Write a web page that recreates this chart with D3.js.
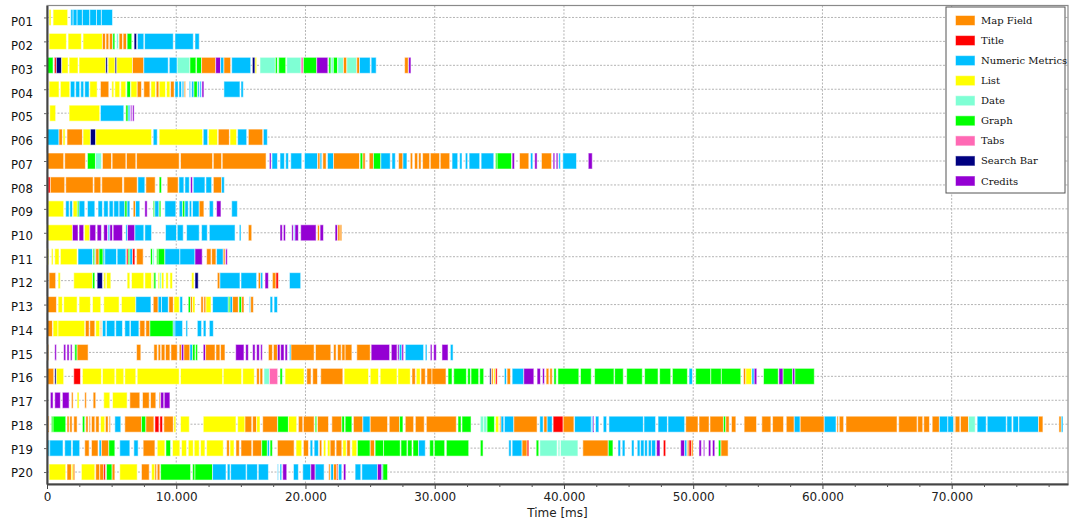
<!DOCTYPE html>
<html><head><meta charset="utf-8">
<script src="https://cdn.jsdelivr.net/npm/d3@7"></script>
<style>body{margin:0;background:#fff} svg{display:block}</style>
</head><body><svg id="c" width="1070" height="524"></svg>
<script>
const participants = ["P01","P02","P03","P04","P05","P06","P07","P08","P09","P10","P11","P12","P13","P14","P15","P16","P17","P18","P19","P20"];
const categoryCodes = ["M","T","N","L","D","G","B","S","C"];
const categoryNames = ["Map Field","Title","Numeric Metrics","List","Date","Graph","Tabs","Search Bar","Credits"];
const categoryColors = ["#FF8C00","#FF0000","#00BFFF","#FFFF00","#7FFFD4","#00FF00","#FF69B4","#000080","#9400D3"];
const xMajorTicks = [0,10000,20000,30000,40000,50000,60000,70000];
const xMinorStep = 2500;
const xMax = 79000;

// segments: [start ms, end ms, category code]
const p01 = [[160,310,"L"],[470,1600,"L"],[1840,2020,"N"],[2020,2330,"N"],[2330,2740,"N"],[2740,3310,"N"],[3310,3830,"N"],[3830,4210,"N"],[4210,5070,"N"]];
const p02 = [[160,1500,"L"],[1630,2660,"L"],[2790,4290,"L"],[4290,4520,"M"],[4570,4780,"M"],[4830,5070,"M"],[5090,5250,"G"],[5380,5530,"D"],[5580,5840,"M"],[5890,6150,"M"],[6200,6560,"G"],[6740,6930,"S"],[7000,7490,"N"],[7550,9770,"N"],[9900,11320,"N"],[11450,11780,"N"]];
const p03 = [[0,470,"G"],[570,725,"T"],[725,1140,"S"],[1140,1630,"L"],[1710,2400,"L"],[2480,4550,"L"],[4550,4680,"S"],[4730,5270,"L"],[5270,5400,"S"],[5400,6615,"L"],[6615,7490,"M"],[7490,9380,"N"],[9460,10080,"N"],[10080,11060,"D"],[11060,11520,"G"],[11570,11960,"G"],[11960,13050,"M"],[13050,13430,"C"],[13430,13690,"N"],[13690,14210,"M"],[14290,15760,"N"],[15890,16100,"S"],[16100,16220,"L"],[16480,17670,"D"],[17670,17830,"G"],[17830,17930,"D"],[17930,18470,"G"],[18550,19660,"D"],[19660,19840,"B"],[19840,20870,"G"],[20870,21730,"C"],[21800,21980,"G"],[21980,22160,"D"],[22160,22480,"G"],[22500,22940,"D"],[22940,23200,"M"],[23200,23970,"D"],[23970,24180,"M"],[24180,25010,"N"],[25080,25470,"N"],[27670,27950,"M"],[27980,28160,"C"]];
const p04 = [[160,930,"L"],[1035,1760,"L"],[1810,2150,"N"],[2220,2530,"N"],[2610,2840,"N"],[2920,3260,"N"],[3310,3880,"L"],[4135,4780,"M"],[5010,5170,"L"],[5250,5630,"L"],[5710,6100,"L"],[6180,6460,"G"],[6490,6980,"L"],[6980,7310,"M"],[7490,7960,"M"],[8040,8400,"L"],[8450,8660,"M"],[8680,9170,"L"],[9250,9510,"L"],[9560,9840,"M"],[9900,10150,"N"],[10210,10410,"N"],[10460,10590,"N"],[10620,10720,"M"],[11010,11110,"N"],[11190,11370,"N"],[11370,11630,"G"],[11650,11780,"N"],[11830,11940,"N"],[11990,12140,"C"],[13690,14930,"N"],[15010,15190,"N"]];
const p05 = [[210,670,"L"],[1710,4080,"L"],[4135,5940,"N"],[6100,6280,"G"],[6280,6410,"N"],[6460,6560,"C"],[6620,6740,"C"]];
const p06 = [[0,930,"N"],[930,1190,"M"],[1240,1400,"L"],[1550,2740,"M"],[2790,3360,"L"],[3360,3770,"S"],[3770,8090,"L"],[8220,8530,"N"],[8680,12040,"L"],[12090,12430,"N"],[12500,13200,"L"],[13250,14110,"M"],[14160,14670,"L"],[14750,15450,"N"],[15580,16690,"M"],[16740,17050,"N"]];
const p07 = [[0,1290,"M"],[1370,2970,"M"],[3130,3750,"G"],[3750,4210,"D"],[4290,4990,"M"],[5040,6100,"M"],[6150,6870,"M"],[6930,10230,"M"],[10330,12810,"M"],[12870,13510,"M"],[13560,16950,"M"],[17210,17340,"C"],[17410,17830,"N"],[18030,18370,"N"],[18470,18680,"N"],[18860,19710,"N"],[19920,20930,"N"],[20950,21130,"M"],[21130,21260,"N"],[21340,21600,"M"],[21700,22170,"N"],[22170,24180,"M"],[24230,24440,"G"],[24440,24620,"M"],[24930,25260,"M"],[25260,25830,"G"],[25830,26560,"N"],[26690,26950,"N"],[27200,27540,"M"],[27540,27850,"N"],[28110,28290,"M"],[28440,28680,"M"],[28750,28940,"M"],[29060,29610,"M"],[29660,30380,"M"],[30430,31160,"M"],[31340,31780,"N"],[31930,32110,"N"],[32370,32550,"N"],[32660,33480,"N"],[33590,34570,"N"],[34700,34830,"G"],[34830,35940,"G"],[35990,36170,"C"],[36560,37280,"M"],[37410,37590,"N"],[37740,37920,"C"],[38260,39040,"M"],[39160,39290,"C"],[39400,39530,"C"],[39600,39730,"N"],[39910,40970,"N"],[41880,42190,"C"]];
const p08 = [[80,260,"T"],[260,1370,"M"],[1450,3570,"M"],[3640,4160,"M"],[4240,5840,"M"],[5940,6980,"M"],[7030,7570,"N"],[7650,8370,"M"],[8680,8860,"G"],[9300,10150,"M"],[10210,10590,"N"],[10670,11010,"N"],[11110,11260,"C"],[11320,12220,"N"],[12300,12740,"N"],[12870,13510,"M"],[13510,13720,"N"]];
const p09 = [[80,1290,"L"],[1450,1710,"N"],[1760,1970,"N"],[2020,2350,"L"],[2350,2480,"G"],[2480,2920,"N"],[3130,3700,"N"],[3950,4290,"N"],[4390,4730,"N"],[4810,5120,"N"],[5170,5560,"N"],[5580,6020,"N"],[6020,6200,"G"],[6200,6410,"N"],[6670,6850,"M"],[6850,7180,"N"],[7570,7750,"C"],[8220,8340,"G"],[8340,8660,"N"],[8680,8810,"G"],[9120,9970,"N"],[10230,10490,"N"],[10490,10670,"G"],[10670,10930,"N"],[11010,11190,"N"],[11260,11780,"N"],[11780,12140,"M"],[12560,12870,"N"],[13120,13460,"C"],[14290,14730,"N"]];
const p10 = [[0,1970,"L"],[1970,2400,"C"],[2480,2840,"C"],[2900,3310,"L"],[3310,3770,"C"],[3880,4210,"C"],[4390,4680,"C"],[4730,4860,"N"],[4860,5070,"C"],[5120,5840,"C"],[6100,6230,"N"],[6230,6800,"C"],[6800,7490,"N"],[7570,8090,"N"],[9170,10020,"N"],[10080,10540,"N"],[10800,11780,"N"],[11960,12400,"N"],[12560,14550,"N"],[14880,15010,"N"],[15580,15840,"M"],[18030,18210,"C"],[18290,18450,"C"],[18940,19070,"C"],[19120,19190,"N"],[19190,19450,"C"],[19630,20820,"C"],[20930,21080,"M"],[21130,21390,"C"],[22290,22480,"C"],[22500,22680,"M"],[22680,22810,"M"]];
const p11 = [[0,130,"L"],[340,470,"L"],[600,930,"L"],[1035,2330,"L"],[2400,3520,"N"],[3570,3700,"G"],[3700,3770,"N"],[3770,4030,"M"],[4030,4340,"G"],[4340,4470,"N"],[4470,5380,"N"],[5430,6100,"N"],[6150,6280,"T"],[6280,6410,"G"],[6410,6620,"N"],[6620,6800,"T"],[6930,7440,"M"],[8010,8170,"G"],[8170,8290,"D"],[8480,8600,"G"],[8600,9120,"G"],[9120,10280,"N"],[10280,11450,"N"],[11450,12010,"C"],[12350,12690,"M"],[12740,13070,"M"],[13120,13640,"N"],[13640,13770,"M"],[13820,13950,"C"]];
const p12 = [[160,670,"M"],[860,1030,"L"],[2070,3520,"L"],[3520,3700,"G"],[3880,4290,"S"],[4390,4550,"L"],[4600,4940,"L"],[6200,6410,"L"],[6540,7490,"L"],[7570,8090,"L"],[8170,8270,"L"],[8270,8420,"G"],[8600,8730,"L"],[8730,8860,"D"],[8860,9040,"L"],[9200,9380,"L"],[9510,9710,"L"],[11190,11370,"L"],[11450,11700,"S"],[13180,13380,"M"],[13380,14930,"N"],[15010,16220,"N"],[16350,16530,"M"],[16530,16690,"N"],[16870,17130,"C"],[17440,17720,"M"],[17720,17900,"T"],[18760,19630,"N"]];
const p13 = [[0,730,"M"],[860,1190,"L"],[1290,2330,"L"],[2480,3360,"L"],[3520,4160,"L"],[4390,5580,"L"],[5760,6870,"L"],[6870,8040,"N"],[8220,8600,"M"],[8600,8860,"N"],[8860,9380,"N"],[9430,9770,"M"],[9820,10230,"L"],[10280,10490,"N"],[10930,11110,"G"],[11110,11260,"M"],[11260,11450,"L"],[11910,12090,"M"],[12140,12300,"M"],[12300,12690,"L"],[12810,14030,"N"],[14030,14160,"G"],[14160,14360,"N"],[14360,14800,"M"],[14860,15060,"G"],[15060,15240,"M"],[15660,15760,"N"],[15760,15970,"M"],[17260,17460,"N"],[17570,17830,"N"]];
const p14 = [[0,420,"M"],[470,850,"L"],[850,2920,"L"],[2970,3260,"M"],[3310,3700,"M"],[3770,4080,"L"],[4140,4210,"M"],[4290,4550,"N"],[4600,5250,"N"],[5320,5840,"N"],[6020,6410,"N"],[6460,7110,"N"],[7180,7570,"M"],[7650,7960,"M"],[7960,9770,"G"],[9770,9900,"N"],[9900,10490,"N"],[10750,10880,"N"],[11630,11960,"N"],[12090,12300,"N"],[12560,12870,"N"]];
const p15 = [[0,130,"M"],[600,730,"C"],[1290,1450,"C"],[1550,1710,"C"],[1810,1940,"C"],[2150,2330,"G"],[2330,3180,"M"],[6930,7260,"M"],[8270,8530,"M"],[8600,8790,"M"],[8840,9120,"M"],[9170,9510,"M"],[9590,10080,"M"],[10230,10410,"M"],[10410,10590,"C"],[10590,11060,"M"],[11060,11260,"N"],[11260,11450,"G"],[11500,11650,"G"],[12090,12270,"C"],[12270,13000,"M"],[13070,13380,"M"],[13430,13770,"M"],[14600,15240,"C"],[15370,15580,"C"],[15910,16100,"C"],[16220,16430,"C"],[16530,16660,"C"],[17130,17440,"M"],[17520,17830,"M"],[17830,18030,"C"],[18080,18340,"C"],[18420,18600,"C"],[18760,18880,"N"],[18880,20670,"M"],[20770,21960,"M"],[22170,22370,"M"],[22480,22760,"M"],[22810,23070,"M"],[23070,23590,"M"],[23970,25010,"M"],[25080,26510,"C"],[26640,27080,"C"],[27130,27260,"C"],[27260,27460,"N"],[27460,27590,"C"],[27720,29140,"N"],[29270,29400,"N"],[29660,29790,"C"],[29920,30120,"C"],[30560,31030,"C"],[31210,31420,"N"]];
const p16 = [[0,520,"M"],[600,725,"S"],[725,1290,"L"],[2070,2590,"T"],[2740,4210,"L"],[4290,5250,"L"],[5320,5940,"L"],[6020,6870,"L"],[6980,10230,"L"],[10330,13590,"L"],[13640,15060,"L"],[15140,16040,"L"],[16220,16430,"M"],[16480,16690,"M"],[16790,17210,"D"],[17210,17850,"B"],[18030,18210,"G"],[18420,19890,"L"],[20100,20430,"M"],[20560,20930,"M"],[21180,22890,"M"],[22990,24880,"L"],[25010,25650,"L"],[25780,27080,"L"],[27150,28110,"L"],[28240,28500,"M"],[28570,28880,"L"],[28940,29270,"M"],[29400,29790,"M"],[29790,30870,"M"],[31030,31340,"G"],[31470,32450,"G"],[32550,32760,"G"],[32810,33400,"G"],[33480,33790,"G"],[34260,34360,"S"],[34390,34520,"M"],[34570,34700,"L"],[34700,34830,"T"],[35390,35550,"N"],[35600,35860,"M"],[35990,36890,"N"],[36890,37670,"C"],[37920,38180,"C"],[38340,38490,"C"],[38620,38830,"M"],[38910,39090,"M"],[39220,39400,"G"],[39530,41150,"G"],[41280,42110,"G"],[42370,43870,"G"],[43920,44590,"G"],[44850,46060,"G"],[46240,47280,"G"],[47400,48260,"G"],[48390,49550,"G"],[49680,49940,"N"],[50190,51360,"G"],[51360,52180,"G"],[52180,53680,"G"],[53890,54070,"M"],[54070,54510,"L"],[54540,54720,"N"],[54720,54920,"C"],[55440,56580,"G"],[56630,56960,"C"],[56960,57690,"G"],[57690,57870,"C"],[57870,59370,"G"]];
const p17 = [[260,470,"C"],[600,1035,"C"],[1190,1710,"C"],[1890,2020,"M"],[2330,2480,"L"],[2920,3050,"M"],[3570,3770,"M"],[4390,4860,"L"],[5070,6200,"L"],[6410,7180,"M"],[7390,7910,"M"],[8010,8420,"M"],[8680,8790,"M"],[8790,9040,"C"],[9070,9510,"C"]];
const p18 = [[80,160,"M"],[340,470,"G"],[470,1450,"G"],[1550,1710,"M"],[1760,1940,"M"],[2070,2330,"M"],[2740,2920,"G"],[3000,3180,"M"],[3260,3360,"M"],[3440,3700,"M"],[3770,4030,"M"],[4140,4470,"L"],[4520,4730,"M"],[4810,4910,"M"],[5250,5710,"N"],[6020,7310,"M"],[7310,7650,"G"],[7650,8270,"M"],[8350,8660,"T"],[8730,8940,"T"],[9040,9770,"M"],[9820,9970,"L"],[10330,11010,"L"],[12090,14620,"L"],[14750,15320,"L"],[15320,15840,"M"],[15910,16220,"M"],[16220,16480,"L"],[16690,17830,"M"],[17850,18680,"G"],[18680,19320,"L"],[19450,19790,"M"],[19840,20670,"M"],[20750,20870,"G"],[20930,21780,"M"],[22040,22810,"M"],[22810,23020,"G"],[23070,23590,"G"],[23710,24440,"M"],[24440,25010,"N"],[25010,26350,"M"],[26480,27280,"M"],[27280,27540,"G"],[27720,28370,"M"],[28500,29190,"M"],[29350,31670,"M"],[31800,32040,"G"],[32110,32810,"G"],[33530,33790,"D"],[33790,34050,"D"],[34050,34620,"G"],[34700,34950,"L"],[35030,35130,"M"],[35130,35340,"N"],[35390,36120,"N"],[36120,37920,"M"],[38130,38390,"N"],[38440,38700,"M"],[38700,39090,"N"],[39160,39940,"T"],[39940,40770,"M"],[40820,42110,"N"],[42130,42240,"N"],[42240,42320,"C"],[42440,42700,"N"],[43040,43300,"N"],[43480,46140,"N"],[46190,47090,"N"],[47280,48000,"N"],[48050,49340,"N"],[49420,50370,"M"],[50450,51230,"M"],[51300,52340,"M"],[52340,52520,"G"],[52520,52780,"M"],[52960,53300,"M"],[53940,54900,"M"],[55310,56010,"M"],[56140,56990,"M"],[57200,57820,"M"],[57820,58280,"N"],[58280,60140,"M"],[60140,61050,"N"],[61120,61230,"M"],[61300,61640,"M"],[61820,65770,"M"],[65900,67320,"M"],[67370,67760,"M"],[67840,68280,"M"],[68490,69050,"M"],[69050,69700,"N"],[69700,70160,"N"],[70160,70220,"M"],[70270,70630,"M"],[70680,71300,"M"],[71300,71820,"D"],[71970,72670,"N"],[72750,74220,"N"],[74270,74660,"N"],[74740,75170,"N"],[75200,76720,"N"],[76720,77060,"M"],[78300,78480,"M"],[78480,78610,"N"]];
const p19 = [[80,210,"N"],[210,1240,"N"],[1370,1890,"N"],[1970,2530,"N"],[2920,3260,"M"],[3440,3950,"M"],[4030,4210,"N"],[4210,4780,"M"],[4780,5250,"G"],[5630,6410,"N"],[6720,7050,"N"],[7440,8350,"M"],[8530,9120,"L"],[9200,9560,"G"],[9710,10280,"L"],[10410,10800,"L"],[10930,11320,"L"],[11390,11780,"L"],[11880,12220,"L"],[12350,13640,"L"],[13900,14110,"M"],[14160,14470,"L"],[14620,14880,"M"],[15010,15840,"M"],[15910,16610,"M"],[16610,17050,"G"],[17050,17210,"N"],[17260,17440,"G"],[17830,19120,"M"],[19270,19710,"L"],[19840,20230,"M"],[20360,20560,"N"],[20670,21000,"N"],[21080,21260,"M"],[21390,21570,"L"],[21700,21910,"L"],[21910,22290,"M"],[22370,22810,"M"],[22890,23150,"L"],[23200,23460,"M"],[23590,23970,"L"],[24020,25010,"G"],[25010,25340,"M"],[25390,26040,"G"],[26040,27330,"G"],[27390,27850,"G"],[27900,28240,"G"],[28320,28750,"G"],[28750,29270,"N"],[29610,29920,"G"],[29970,30770,"G"],[30900,32630,"G"],[33530,33740,"G"],[35730,35910,"N"],[35990,36760,"N"],[36760,37150,"M"],[37150,37280,"T"],[37850,38050,"G"],[38130,39470,"D"],[39550,39680,"D"],[39730,41080,"D"],[41460,43430,"M"],[43430,43790,"G"],[44180,44380,"N"],[44510,44720,"N"],[45230,45420,"N"],[45670,45880,"N"],[45930,46190,"N"],[46240,46450,"N"],[46530,46760,"N"],[46780,47090,"N"],[47170,47430,"C"],[47690,47870,"T"],[49030,49340,"C"],[49340,49500,"N"],[49550,49680,"M"],[49680,49860,"T"],[49860,49990,"M"],[50450,50630,"C"],[50790,50890,"C"],[51180,51360,"C"],[51490,51670,"C"],[51950,52150,"G"],[52150,52700,"M"]];
const p20 = [[160,1450,"L"],[1550,1890,"M"],[1890,2020,"L"],[2020,2150,"M"],[2660,3700,"L"],[3770,4080,"M"],[4080,4390,"M"],[4390,4520,"T"],[4600,5040,"G"],[5040,5250,"M"],[5630,6980,"L"],[7310,7910,"M"],[8090,8350,"L"],[8350,8480,"M"],[8530,8730,"M"],[8790,11110,"G"],[11260,11450,"G"],[11450,12810,"G"],[12810,13850,"N"],[13950,14160,"N"],[14210,15400,"N"],[15450,16280,"N"],[16350,17130,"N"],[17830,17900,"N"],[18030,18160,"N"],[18240,18550,"C"],[19070,19450,"N"],[19790,20410,"N"],[20410,20750,"C"],[20750,21440,"N"],[21800,21910,"M"],[21960,22170,"N"],[22170,22420,"M"],[22420,22500,"T"],[22550,22810,"N"],[22940,23120,"C"],[23840,24280,"N"],[24360,25570,"N"],[25570,25910,"C"],[25910,25990,"N"],[25990,26350,"G"]];
const segmentsByParticipant = [p01,p02,p03,p04,p05,p06,p07,p08,p09,p10,p11,p12,p13,p14,p15,p16,p17,p18,p19,p20];

// ---- drawing ----
const svg = d3.select("#c");
const L = 47, R = 1068, T = 5.5, B = 484;
const x = d3.scaleLinear().domain([0, xMax]).range([L, R]);
const y = d3.scalePoint().domain(participants).range([T, B]).padding(0.5);
// tick labels sit on a slightly different spacing than the rows in the original
const yLab = d3.scalePoint().domain(participants).range([9.8, 484.6]).padding(0.5);
const color = d3.scaleOrdinal().domain(categoryCodes).range(categoryColors);
const barH = 16;
const fmt = d => d3.format(",")(d).replace(/,/g, ".");

// gridlines
const grid = svg.append("g");
grid.selectAll("line.h").data(participants).join("line")
  .attr("x1", L).attr("x2", R).attr("y1", d => y(d)).attr("y2", d => y(d))
  .attr("stroke", "#b4b4b4").attr("stroke-dasharray", "2,1.5").attr("stroke-width", 1);
grid.selectAll("line.v").data(xMajorTicks.filter(d => d > 0)).join("line")
  .attr("x1", d => x(d)).attr("x2", d => x(d)).attr("y1", T).attr("y2", B)
  .attr("stroke", "#b4b4b4").attr("stroke-dasharray", "2,1.5").attr("stroke-width", 1);

// frame (top/right)
svg.append("rect").attr("x", L).attr("y", T).attr("width", R - L).attr("height", B - T)
  .attr("fill", "none").attr("stroke", "#8a8a8a").attr("stroke-width", 1.2);

// bars
const rows = svg.append("g");
participants.forEach((p, i) => {
  rows.append("g").selectAll("rect").data(segmentsByParticipant[i]).join("rect")
    .attr("x", d => x(d[0]))
    .attr("width", d => Math.max(0.8, x(d[1]) - x(d[0])))
    .attr("y", y(p) - barH / 2)
    .attr("height", barH)
    .attr("fill", d => color(d[2]))
    .attr("stroke", "#ffffff").attr("stroke-opacity", 0.55).attr("stroke-width", 1);
});

// x axis
const xAxisG = svg.append("g").attr("transform", `translate(0,${B})`);
xAxisG.call(d3.axisBottom(x).tickValues(xMajorTicks).tickFormat(fmt).tickSize(5).tickSizeOuter(0).tickPadding(3));
const minor = svg.append("g").attr("transform", `translate(0,${B})`)
  .call(d3.axisBottom(x).tickValues(d3.range(0, xMax, xMinorStep).filter(v => v % 10000 !== 0)).tickSize(3).tickFormat(""));
minor.select(".domain").remove();
minor.selectAll("line").attr("stroke", "#555");
xAxisG.select(".domain").attr("stroke", "#444").attr("stroke-width", 2);
xAxisG.selectAll(".tick line").attr("stroke", "#444");
xAxisG.selectAll("text").attr("font-family", "DejaVu Sans, sans-serif").attr("font-size", 12).attr("fill", "#222");

// y axis
const yAxisG = svg.append("g").attr("transform", `translate(${L},0)`);
yAxisG.call(d3.axisLeft(y).tickSize(3).tickSizeOuter(0).tickPadding(11));
yAxisG.select(".domain").attr("stroke", "#444").attr("stroke-width", 2);
yAxisG.selectAll(".tick line").attr("stroke", "#666");
yAxisG.selectAll(".tick text")
  .attr("y", d => yLab(d) - y(d))
  .attr("font-family", "DejaVu Sans Condensed, DejaVu Sans, sans-serif").attr("font-size", 13).attr("fill", "#111");

// axis title
svg.append("text").attr("x", (L + R) / 2).attr("y", 516.5).attr("text-anchor", "middle")
  .attr("font-family", "DejaVu Sans, sans-serif").attr("font-size", 12).attr("fill", "#222")
  .text("Time [ms]");

// legend
const lg = svg.append("g");
lg.append("rect").attr("x", 946).attr("y", 7).attr("width", 119).attr("height", 186)
  .attr("fill", "#fff").attr("stroke", "#555").attr("stroke-width", 1);
const ly = d3.scaleLinear().domain([0, categoryNames.length - 1]).range([20.5, 181]);
categoryNames.forEach((name, i) => {
  lg.append("rect").attr("x", 955.5).attr("y", ly(i) - 5).attr("width", 19.5).attr("height", 10)
    .attr("fill", categoryColors[i]).attr("stroke", "#fff").attr("stroke-opacity", 0.5);
  lg.append("text").attr("x", 981).attr("y", ly(i)).attr("dy", "0.35em")
    .attr("font-family", "DejaVu Serif, serif").attr("font-size", 10).attr("fill", "#111")
    .text(name);
});
</script></body></html>
